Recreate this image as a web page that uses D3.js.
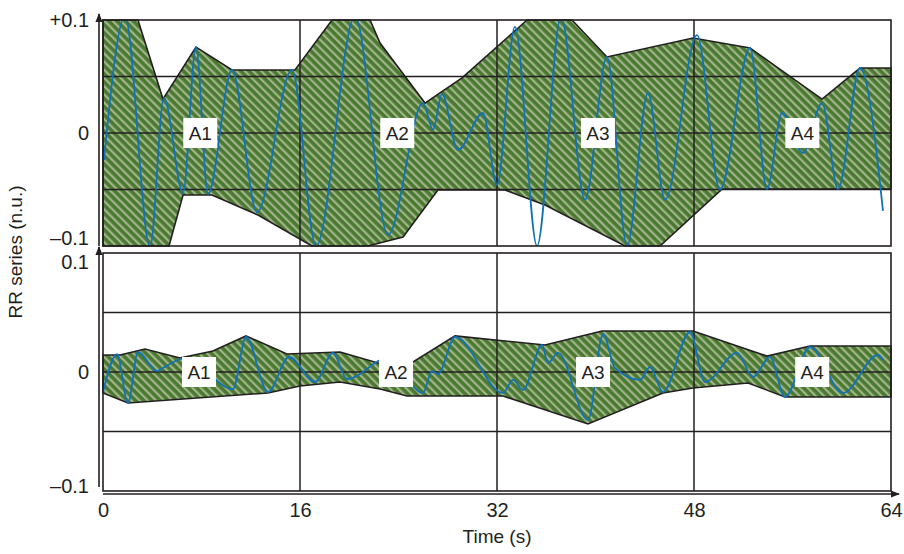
<!DOCTYPE html>
<html>
<head>
<meta charset="utf-8">
<script src="https://cdn.jsdelivr.net/npm/d3@7"></script>
<style>
  body { margin: 0; background: #fff; }
  text { font-family: "Liberation Sans", Arial, sans-serif; fill: #231f20; }
</style>
</head>
<body>
<svg id="chart" width="904" height="554"></svg>
<script>
// ---- data (time in s, value in n.u.) ----
const timeTicks = [0, 16, 32, 48, 64];
const valueTicks = [0.1, 0, -0.1];
const topTickLabels = ["+0.1", "0", "\u20130.1"];
const bottomTickLabels = ["0.1", "0", "\u20130.1"];
const gridValues = [0.05, 0, -0.05];
const gridTimes = [16, 32, 48];
const segmentNames = ["A1", "A2", "A3", "A4"];
const topLabelTimes = [7.9, 23.9, 40.2, 56.8];
const bottomLabelTimes = [7.8, 23.8, 39.8, 57.6];

// top panel: envelope upper / lower edges and RR signal
const topUpper = [[0,0.1],[2.84,0.1],[4.87,0.030],[7.55,0.076],[10.48,0.0558],[15.59,0.0558],
  [18.6,0.1],[21.69,0.1],[22.5,0.0796],[26.15,0.0265],[29.16,0.0487],[34.44,0.1],[38.09,0.1],
  [40.93,0.0673],[47.92,0.0841],[52.55,0.0752],[55.96,0.0487],[58.4,0.030],[61.48,0.0575],[64,0.0575]];
const topLower = [[0,-0.1],[5.36,-0.1],[6.5,-0.0549],[8.85,-0.0549],[12.59,-0.0726],[16.97,-0.1],
  [21.52,-0.1],[24.37,-0.092],[27.2,-0.0504],[32.65,-0.0504],[35.9,-0.0637],[42.4,-0.1],
  [45.24,-0.1],[50.27,-0.0496],[64,-0.0496]];
const topSignal = [[0.08,-0.024],[1.79,0.103],[3.82,-0.101],[4.95,0.031],[6.5,-0.053],[7.55,0.076],
  [8.53,-0.054],[10.48,0.0558],[12.51,-0.070],[15.35,0.0558],[17.3,-0.1],[20.47,0.103],
  [23.15,-0.090],[25.99,0.0265],[26.8,0.003],[27.53,0.0345],[28.83,-0.015],[30.86,0.0177],
  [32.0,-0.046],[33.46,0.094],[35.25,-0.1],[37.2,0.103],[39.15,-0.059],[40.93,0.0673],
  [42.56,-0.1],[44.26,0.0354],[45.65,-0.059],[48.24,0.0867],[50.11,-0.050],[52.55,0.0752],
  [53.93,-0.0496],[55.15,0.0177],[56.85,-0.0177],[58.4,0.0265],[59.7,-0.0496],[61.48,0.0575],
  [63.35,-0.069]];

// bottom panel
const bottomUpper = [[0,0.0143],[1.38,0.0143],[3.41,0.0193],[6.25,0.0118],[8.93,0.0176],
  [11.61,0.0303],[14.94,0.0151],[19.25,0.0168],[22.34,0.0076],[25.18,0.0084],[28.59,0.0303],
  [35.9,0.0227],[40.53,0.0345],[47.92,0.0345],[53.93,0.0134],[57.42,0.0218],[64,0.0218]];
const bottomLower = [[0,-0.0176],[2.03,-0.0261],[13.4,-0.0176],[16.0,-0.0118],[19.25,-0.0084],
  [22.5,-0.0143],[24.69,-0.0202],[32.49,-0.0202],[39.39,-0.0437],[45.48,-0.0176],
  [47.92,-0.0134],[52.39,-0.0092],[55.39,-0.021],[64,-0.021]];
const bottomSignal = [[0,-0.0168],[1.14,0.0151],[2.03,-0.0261],[2.84,0.0168],[4.39,0.0008],
  [4.87,0.0034],[6.74,0.0118],[10.56,-0.0143],[11.61,0.0294],[13.4,-0.0168],[15.11,0.0126],
  [17.22,-0.0084],[18.68,0.016],[19.82,-0.0059],[23.15,0.0118],[25.99,-0.0176],[26.72,0.0008],
  [27.21,-0.0017],[28.59,0.0294],[32.49,-0.0176],[33.3,-0.0067],[34.11,-0.0151],[35.66,0.0227],
  [36.14,0.0076],[36.96,0.016],[39.39,-0.0403],[40.61,0.0319],[41.58,0.0034],[43.62,-0.0067],
  [44.43,0.0042],[45.48,-0.0168],[47.68,0.0336],[48.89,-0.0084],[51.49,0.016],[52.79,-0.0042],
  [54.17,0.0126],[55.39,-0.021],[57.42,0.021],[60.1,-0.0176],[62.95,0.0143],[63.35,0.0101]];

// ---- layout ----
const config = { left: 103, right: 891, axisX: 99, axisY: 494, ink: '#231f20' };
const panels = [
  { id: 'top', y0: 20, y1: 246, upper: topUpper, lower: topLower, signal: topSignal,
    tickLabels: topTickLabels, labelShift: [0, 0, -8], labelTimes: topLabelTimes, axisEnd: 246 },
  { id: 'bottom', y0: 253, y1: 491, upper: bottomUpper, lower: bottomLower, signal: bottomSignal,
    tickLabels: bottomTickLabels, labelShift: [9, 0, -5], labelTimes: bottomLabelTimes, axisEnd: 487 }
];

const svg = d3.select('#chart');
const defs = svg.append('defs');

const x = d3.scaleLinear().domain([0, 64]).range([config.left, config.right]);

// diagonal hatch
const hatch = defs.append('pattern')
  .attr('id', 'hatch')
  .attr('patternUnits', 'userSpaceOnUse')
  .attr('width', 5.8).attr('height', 5.8)
  .attr('patternTransform', 'rotate(-45)');
hatch.append('rect').attr('width', 5.8).attr('height', 5.8).attr('fill', '#4a7a30');
hatch.append('rect').attr('width', 2.2).attr('height', 5.8).attr('fill', '#a3b48d');

defs.append('marker')
  .attr('id', 'arrow')
  .attr('viewBox', '0 0 10 10')
  .attr('refX', 9).attr('refY', 5)
  .attr('markerUnits', 'userSpaceOnUse')
  .attr('markerWidth', 9).attr('markerHeight', 9)
  .attr('orient', 'auto')
  .append('path').attr('d', 'M0,1 L10,5 L0,9 Z').attr('fill', config.ink);

function drawPanel(p) {
  const y = d3.scaleLinear().domain([-0.1, 0.1]).range([p.y1, p.y0]);
  const g = svg.append('g').attr('id', p.id);

  defs.append('clipPath').attr('id', 'clip-' + p.id)
    .append('rect')
    .attr('x', config.left).attr('y', p.y0)
    .attr('width', config.right - config.left).attr('height', p.y1 - p.y0);

  // envelope
  const poly = p.upper.concat(p.lower.slice().reverse());
  const line = d3.line().x(d => x(d[0])).y(d => y(d[1]));
  g.append('path')
    .attr('d', line(poly) + 'Z')
    .attr('fill', 'url(#hatch)')
    .attr('stroke', config.ink)
    .attr('stroke-width', 1.6)
    .attr('stroke-linejoin', 'miter');

  // grid
  g.append('g').selectAll('line')
    .data(gridValues)
    .enter().append('line')
    .attr('x1', config.left).attr('x2', config.right)
    .attr('y1', d => y(d)).attr('y2', d => y(d))
    .attr('stroke', config.ink).attr('stroke-width', 1.5);
  g.append('g').selectAll('line')
    .data(gridTimes)
    .enter().append('line')
    .attr('x1', d => x(d)).attr('x2', d => x(d))
    .attr('y1', p.y0).attr('y2', p.y1)
    .attr('stroke', config.ink).attr('stroke-width', 1.5);

  // RR signal
  const sig = d3.line().x(d => x(d[0])).y(d => y(d[1])).curve(d3.curveMonotoneX);
  g.append('path')
    .attr('d', sig(p.signal))
    .attr('clip-path', 'url(#clip-' + p.id + ')')
    .attr('fill', 'none')
    .attr('stroke', '#1272b8')
    .attr('stroke-width', 1.8);

  // segment labels
  const lab = g.append('g').selectAll('g')
    .data(segmentNames)
    .enter().append('g')
    .attr('transform', (d, i) => 'translate(' + x(p.labelTimes[i]) + ',' + y(0) + ')');
  lab.append('rect')
    .attr('x', -17).attr('y', -15).attr('width', 34).attr('height', 30)
    .attr('fill', '#fff');
  lab.append('text')
    .attr('text-anchor', 'middle')
    .attr('dy', '0.36em')
    .style('font-size', '19px')
    .text(d => d);

  // frame
  g.append('rect')
    .attr('x', config.left).attr('y', p.y0)
    .attr('width', config.right - config.left).attr('height', p.y1 - p.y0)
    .attr('fill', 'none').attr('stroke', config.ink).attr('stroke-width', 1.6);

  // y axis with arrow
  g.append('line')
    .attr('x1', config.axisX).attr('x2', config.axisX)
    .attr('y1', p.axisEnd).attr('y2', p.y0 - 6)
    .attr('stroke', config.ink).attr('stroke-width', 1.6)
    .attr('marker-end', 'url(#arrow)');

  g.append('g').selectAll('text')
    .data(valueTicks)
    .enter().append('text')
    .attr('x', 89)
    .attr('y', (d, i) => y(d) + p.labelShift[i])
    .attr('dy', '0.36em')
    .attr('text-anchor', 'end')
    .style('font-size', '20px')
    .text((d, i) => p.tickLabels[i]);
}

panels.forEach(drawPanel);

// x axis
svg.append('line')
  .attr('x1', config.left).attr('x2', config.right + 8)
  .attr('y1', config.axisY).attr('y2', config.axisY)
  .attr('stroke', config.ink).attr('stroke-width', 1.6)
  .attr('marker-end', 'url(#arrow)');

const xAxis = svg.append('g')
  .attr('transform', 'translate(0,' + (config.axisY + 4) + ')')
  .call(d3.axisBottom(x).tickValues(timeTicks).tickSize(0).tickPadding(5));
xAxis.select('.domain').remove();
xAxis.selectAll('text')
  .style('font-size', '20px')
  .style('font-family', '"Liberation Sans", Arial, sans-serif')
  .attr('fill', config.ink);

svg.append('text')
  .attr('x', (config.left + config.right) / 2)
  .attr('y', 543)
  .attr('text-anchor', 'middle')
  .style('font-size', '19px')
  .text('Time (s)');

svg.append('text')
  .attr('transform', 'translate(22,' + 252 + ') rotate(-90)')
  .attr('text-anchor', 'middle')
  .style('font-size', '19px')
  .text('RR series (n.u.)');
</script>
</body>
</html>
